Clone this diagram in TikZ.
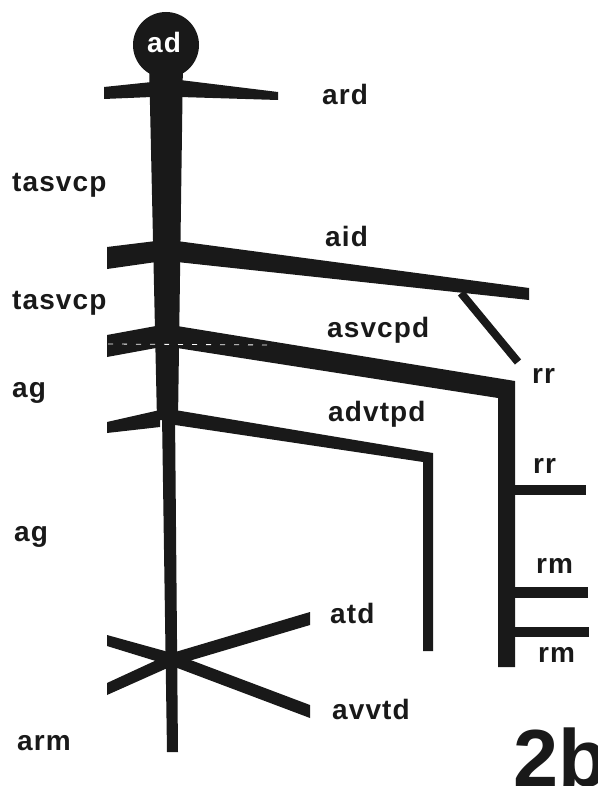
\documentclass[tikz,border=0pt]{standalone}
\usepackage{fontspec}
\setmainfont{Liberation Sans}
\newfontfamily\lblfont[LetterSpace=4]{Liberation Sans}
\begin{document}
\begin{tikzpicture}[x=1pt,y=-1pt]
\definecolor{ink}{gray}{0.1}
\tikzset{
  lbl/.style={inner sep=0pt, anchor=base west, text=ink, font=\lblfont\bfseries\fontsize{28}{30}\selectfont},
  vessel/.style={fill=ink, draw=none}
}
\useasboundingbox (0,0) rectangle (597,786);
% head circle
\fill[vessel] (166,45) circle (33);
% trunk
\fill[vessel] (149,60) -- (183,60) -- (178,420) -- (157,420) -- cycle;
\fill[vessel] (162,415) -- (175,415) -- (178,752) -- (167,752) -- cycle;
% ard
\fill[vessel] (104,87) -- (152,82) -- (152,97) -- (104,99) -- cycle;
\fill[vessel] (180,80) -- (278,92) -- (278,100) -- (180,97) -- cycle;
% aid
\fill[vessel] (107,247) -- (156,241) -- (156,262) -- (107,269) -- cycle;
\fill[vessel] (177,241) -- (529,288) -- (529,300) -- (177,262) -- cycle;
% rr diagonal
\coordinate (rrA) at (461,293);
\coordinate (rrB) at (518,362);
\draw[ink, line width=8pt] (rrA) -- (rrB);
% asvcpd with descending vessel
\fill[vessel] (107,335) -- (156,326) -- (156,348) -- (107,357) -- cycle;
\fill[vessel] (177,326) -- (515,381) -- (515,667) -- (498,667) -- (498,398) -- (177,348) -- cycle;
\draw[white, line width=0.8pt, dash pattern=on 5pt off 9pt] (108,344) -- (272,345);
% rr / rm branches
\fill[vessel] (514,485) -- (586,485) -- (586,495) -- (514,495) -- cycle;
\fill[vessel] (514,587) -- (588,587) -- (588,598) -- (514,598) -- cycle;
\fill[vessel] (514,627) -- (589,627) -- (589,637) -- (514,637) -- cycle;
% advtpd
\fill[vessel] (107,422) -- (160,410) -- (160,427) -- (107,433) -- cycle;
\fill[vessel] (175,410) -- (433,453) -- (433,651) -- (423,651) -- (423,462) -- (175,425) -- cycle;
% lower X
\fill[vessel] (107,635) -- (172,653) -- (172,666) -- (107,646) -- cycle;
\fill[vessel] (310,612) -- (172,653) -- (172,666) -- (310,625) -- cycle;
\fill[vessel] (107,683) -- (172,653) -- (172,666) -- (107,695) -- cycle;
\fill[vessel] (310,705) -- (172,653) -- (172,666) -- (310,718) -- cycle;
% labels
\node[lbl, text=white] (ad) at (147,53) {ad};
\node[lbl] (ard) at (322,105) {ard};
\node[lbl] (tasvcpA) at (12,192) {tasvcp};
\node[lbl] (aid) at (325,247) {aid};
\node[lbl] (tasvcpB) at (12,309) {tasvcp};
\node[lbl] (asvcpd) at (327,337) {asvcpd};
\node[lbl] (rrA) at (532,383) {rr};
\node[lbl] (agA) at (12,397) {ag};
\node[lbl] (advtpd) at (328,421) {advtpd};
\node[lbl] (rrB) at (533,473) {rr};
\node[lbl] (agB) at (14,541) {ag};
\node[lbl] (rmA) at (536,573) {rm};
\node[lbl] (atd) at (330,623) {atd};
\node[lbl] (rmB) at (538,662) {rm};
\node[lbl] (avvtd) at (332,719) {avvtd};
\node[lbl] (arm) at (17,750) {arm};
\node[inner sep=0pt, anchor=base west, text=ink, font=\bfseries\fontsize{81}{81}\selectfont] (fig) at (513,786) {2b};
\end{tikzpicture}
\end{document}
